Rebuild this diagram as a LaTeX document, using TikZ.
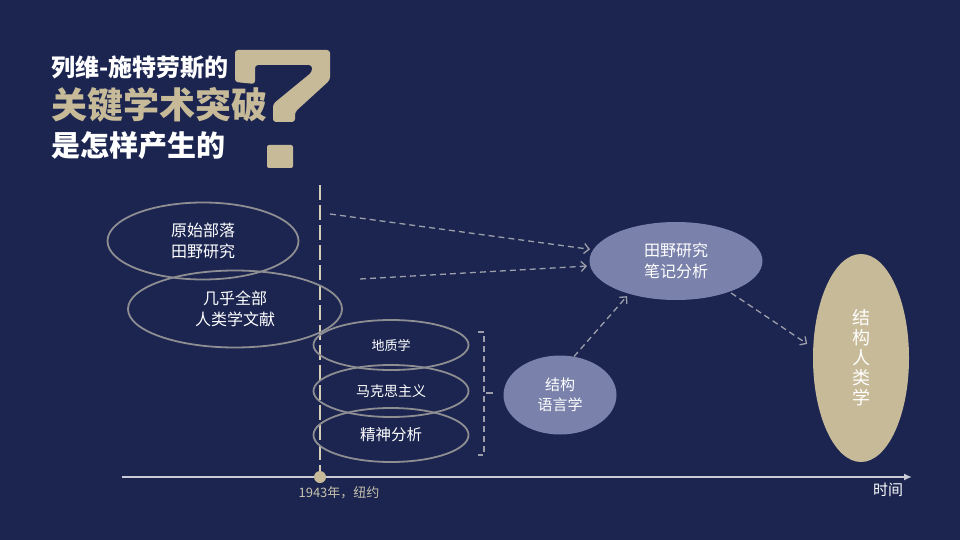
\documentclass[tikz,border=0pt]{standalone}
\usepackage{fontspec}
\setmainfont{Noto Sans CJK SC}
\usetikzlibrary{arrows.meta,shapes.geometric}
\definecolor{navy}{HTML}{1B2550}
\definecolor{sand}{HTML}{C7BA98}
\definecolor{slate}{HTML}{7A82AC}
\definecolor{rim}{HTML}{8E8E92}
\definecolor{flow}{HTML}{9C9FAA}
\definecolor{axis}{HTML}{C9CBD6}
\definecolor{pole}{HTML}{D4CDB5}

\begin{document}
\begin{tikzpicture}[x=1pt,y=-1pt,
	oval/.style={ellipse,draw=rim,line width=1.8pt,text=white,inner sep=0pt,align=center},
	blob/.style={ellipse,fill=slate,text=white,inner sep=0pt,align=center},
	flowline/.style={draw=flow,line width=1.3pt,dash pattern=on 6pt off 4pt,
		-{Straight Barb[length=5pt,width=10pt]}}]
	\fill[navy] (0,0) rectangle (960,540);
	\useasboundingbox (0,0) rectangle (960,540);

	\node[anchor=west,text=white,inner sep=0pt,font=\bfseries\fontsize{24}{24}\selectfont] (line1) at (51,68) {列维-施特劳斯的};
	\node[anchor=west,text=sand,inner sep=0pt,font=\bfseries\fontsize{36}{36}\selectfont] (line2) at (51,105) {关键学术突破};
	\node[anchor=west,text=white,inner sep=0pt,font=\bfseries\fontsize{29}{29}\selectfont] (line3) at (51,146) {是怎样产生的};
	% the big question mark
	\fill[sand,rounded corners=3pt] (235,82) -- (235,50) -- (330,50) -- (330,80) -- (295,112) -- (295,122)
		-- (273,122) -- (273,104) -- (312,72) -- (312,65) -- (255,65) -- (255,84) -- cycle;
	\fill[sand,rounded corners=2pt] (267,145) rectangle (293,168);

	\coordinate (t0) at (122,477);
	\coordinate (t1) at (912,477);
	\coordinate (top) at (320,185);
	\draw[axis,line width=2pt,-{Latex[length=8pt,width=7pt]}] (t0) -- (t1);
	\node[circle,fill=sand,inner sep=0pt,minimum size=12pt] (year) at (320,477) {};
	\draw[pole,line width=2.5pt,dash pattern=on 15pt off 5pt] (top) -- (year);
	\node[text=pole!85!gray,font=\fontsize{13}{13}\selectfont] (yearlab) at (339,493) {1943年，纽约};
	\node[text=white,font=\fontsize{15}{15}\selectfont] (timelab) at (888,490) {时间};

	\node[oval,minimum width=191pt,minimum height=77pt,font=\fontsize{16}{21}\selectfont] (tribe) at (203,241) {原始部落\\田野研究};
	\node[oval,minimum width=214pt,minimum height=77pt,font=\fontsize{16}{21}\selectfont] (books) at (235,309) {几乎全部\\人类学文献};
	\foreach \name/\ypos/\h/\size/\txt in {geo/345/50/13/地质学,marx/391/52/14/马克思主义,psy/435/54/15.5/精神分析}{
		\node[oval,minimum width=155pt,minimum height=\h pt,font=\fontsize{\size}{\size}\selectfont] (\name) at (391,\ypos) {\txt};
	}

	\draw[flow,line width=1.3pt,dash pattern=on 6pt off 4pt] (478,332) -- (484,332) -- (484,455) -- (478,455);
	\draw[flow,line width=1.3pt] (486,393) -- (493,393);

	\node[blob,minimum width=113pt,minimum height=79pt,font=\fontsize{15}{20}\selectfont] (lang) at (560,395) {结构\\语言学};
	\node[blob,minimum width=173pt,minimum height=78pt,font=\fontsize{16}{21}\selectfont] (notes) at (676,261) {田野研究\\笔记分析};
	\node[ellipse,fill=sand,text=white,inner sep=0pt,minimum width=96pt,minimum height=208pt,align=center,
		font=\fontsize{18}{20}\selectfont] (struct) at (861,358) {结\\构\\人\\类\\学};

	\coordinate (s1) at (330,214);
	\coordinate (s2) at (360,279);
	\draw[flowline,shorten >=3pt] (s1) -- (notes);
	\draw[flowline,shorten >=3pt] (s2) -- (notes);
	\draw[flowline,shorten >=3pt] (lang.70) -- (notes.215);
	\draw[flowline,shorten <=2pt,shorten >=7pt] (notes.330) -- (struct.168);
\end{tikzpicture}
\end{document}
